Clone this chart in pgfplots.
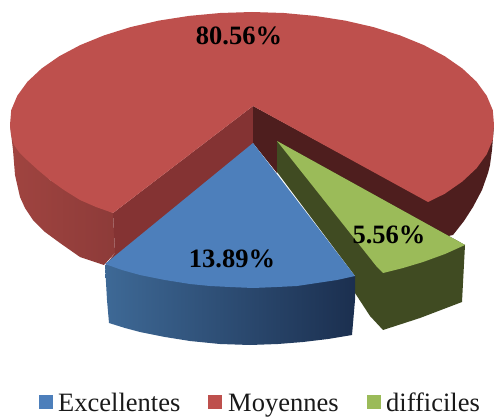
\documentclass[border=0pt]{standalone}
\usepackage{fontspec}
\setmainfont{Liberation Serif}
\usepackage{pgfplots}
\pgfplotsset{compat=1.18}
\definecolor{redtop}{RGB}{190,80,77}
\definecolor{redwalla}{RGB}{160,68,64}
\definecolor{redwallb}{RGB}{141,59,57}
\definecolor{redin}{RGB}{132,51,51}
\definecolor{reddark}{RGB}{78,30,30}
\definecolor{bluetop}{RGB}{77,127,187}
\definecolor{bluewalla}{RGB}{62,105,150}
\definecolor{bluewallb}{RGB}{27,47,79}
\definecolor{greentop}{RGB}{155,187,89}
\definecolor{greendark}{RGB}{64,75,34}
\tikzset{
    lab/.style={anchor=base, font=\fontsize{26.5}{30}\selectfont\bfseries, text=black, inner sep=0pt},
    leg/.style={anchor=base west, font=\fontsize{26.5}{30}\selectfont, text=black!90, inner sep=0pt},
}
\begin{document}
\begin{tikzpicture}
\begin{axis}[
    scale only axis, width=494pt, height=417pt,
    xmin=0, xmax=494, ymin=0, ymax=417, y dir=reverse,
    axis lines=none, no markers,
    every axis plot/.append style={draw=none, forget plot},
]
% keeps the page at the full size of the axis
\path (axis cs:0,0) rectangle (axis cs:494,417);
% red slice, outer wall on the left
\addplot[left color=redwalla, right color=redwallb] coordinates {
    (10,125) (50,180) (113,213) (115,253) (104,265) (80,257) (60,243) (45,232) (33,220) (25,208) (20,197) (15,175) (13,150)};
% red slice, cut faces
\addplot[fill=redin] coordinates {(253,106) (113,213) (115,253) (105,266) (253,150)};
\addplot[fill=reddark] coordinates {
    (253,106) (428,201) (494,125) (492,150) (490,165) (488,173) (482,190) (473,207) (464,221) (453,235)
    (430,240) (277,160) (277,173) (253,143)};
% red slice, top
\addplot[fill=redtop] coordinates {
    (253,106) (428,202) (444.7,193.8) (462.4,181.5) (476.5,168.3) (486.7,154.3) (492.8,139.8)
    (494,125) (492.8,110.2) (486.7,95.7) (476.5,81.7) (462.4,68.5) (444.7,56.2) (423.8,45.1)
    (400,35.4) (373.5,27.1) (345.1,20.6) (314.9,15.9) (283.8,13) (252,12) (220.2,13) (189.1,15.9)
    (158.9,20.6) (130.5,27.1) (104,35.4) (80.2,45.1) (59.3,56.2) (41.6,68.5) (27.5,81.7)
    (17.3,95.7) (11.2,110.2) (10,125) (11,135) (14,145) (19,152) (27,160) (38,170) (50,180)
    (64,190) (80,200) (96,207) (113,213)};
% green slice
\addplot[fill=greendark] coordinates {
    (277,141) (465,245) (462,302) (420,318) (383,330) (370,316) (355,293) (355,276) (277,172)};
\addplot[fill=greentop] coordinates {
    (277,141) (465,245) (445,254) (423,262) (403,268) (383,273) (377,267)};
% blue slice
\addplot[left color=bluewalla, right color=bluewallb] coordinates {
    (105,265) (355,276) (355,300) (352,335) (328,339) (303,342) (278,344) (250,345) (220,344) (190,341)
    (165,337) (140,332) (125,328) (109,323) (107,300)};
\addplot[fill=bluetop] coordinates {
    (253,143) (355,276) (337,280) (317,283) (297,286) (277,287) (253,288) (230,287) (210,286)
    (190,284) (165,280) (140,275) (122,270) (105,264)};
% legend keys
\addplot[fill=bluetop] coordinates {(39,395) (53,395) (53,409) (39,409)};
\addplot[fill=redtop] coordinates {(208,395) (222,395) (222,409) (208,409)};
\addplot[fill=greentop] coordinates {(367,395) (381,395) (381,409) (367,409)};
% labels
\node[lab] at (axis cs:239,45) {80.56\%};
\node[lab] at (axis cs:232,267) {13.89\%};
\node[lab] at (axis cs:389,243) {5.56\%};
\node[leg] at (axis cs:58,411) {Excellentes};
\node[leg] at (axis cs:228,411) {Moyennes};
\node[leg] at (axis cs:386,411) {difficiles};
\end{axis}
\end{tikzpicture}
\end{document}
